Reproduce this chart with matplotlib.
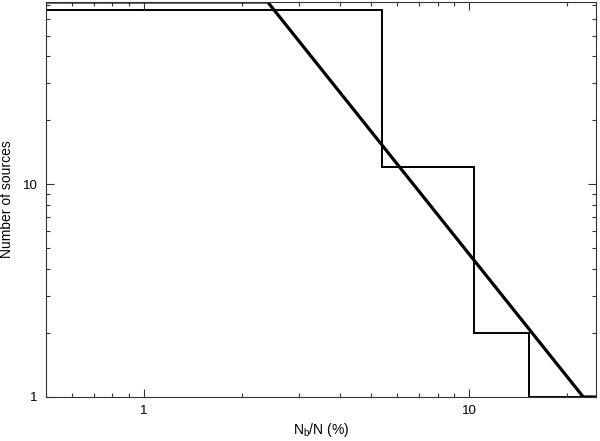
import matplotlib
matplotlib.use("Agg")
import matplotlib.pyplot as plt
from matplotlib.ticker import LogLocator, FixedLocator, NullFormatter

plt.rcParams['font.family'] = ['Liberation Sans', 'DejaVu Sans']

# histogram steps (bin edges and counts)
bin_edges = [0.5, 5.4, 10.3, 15.2, 24.5]
counts = [66, 12, 2, 1]

# power-law model (clipped at the frame)
model_x = [0.5, 2.4, 22.4, 24.5]
model_y = [72, 72, 1, 1]

fig = plt.figure(figsize=(6, 4.41), dpi=100)
ax = fig.add_axes([0.0767, 0.0998, 0.9166, 0.8957])
ax.set_xscale('log')
ax.set_yscale('log')

ax.stairs(counts, bin_edges, color='black', linewidth=1.4, baseline=None)
ax.plot(model_x, model_y, color='black', linewidth=2.3)

ax.set_xlim(0.5, 24.5)
ax.set_ylim(1, 72)

ax.xaxis.set_major_locator(FixedLocator([1, 10]))
ax.xaxis.set_minor_locator(LogLocator(base=10, subs=range(2, 10)))
ax.xaxis.set_minor_formatter(NullFormatter())
ax.set_xticklabels(['1', '10'])
ax.yaxis.set_major_locator(FixedLocator([1, 10]))
ax.yaxis.set_minor_locator(LogLocator(base=10, subs=range(2, 10)))
ax.yaxis.set_minor_formatter(NullFormatter())
ax.set_yticklabels(['1', '10'])

ax.tick_params(which='both', direction='in', top=True, right=True, labelsize=9.5, width=0.8, color='#333333')
ax.tick_params(which='major', length=6, pad=6)
ax.tick_params(which='minor', length=3)
for s in ax.spines.values():
    s.set_linewidth(0.8)
    s.set_color('#333333')

ax.set_xlabel('N$_\\mathregular{b}$/N (%)', fontsize=10, labelpad=3)
ax.set_ylabel('Number of sources', fontsize=10, labelpad=6)

fig.savefig('out.png', dpi=100)
